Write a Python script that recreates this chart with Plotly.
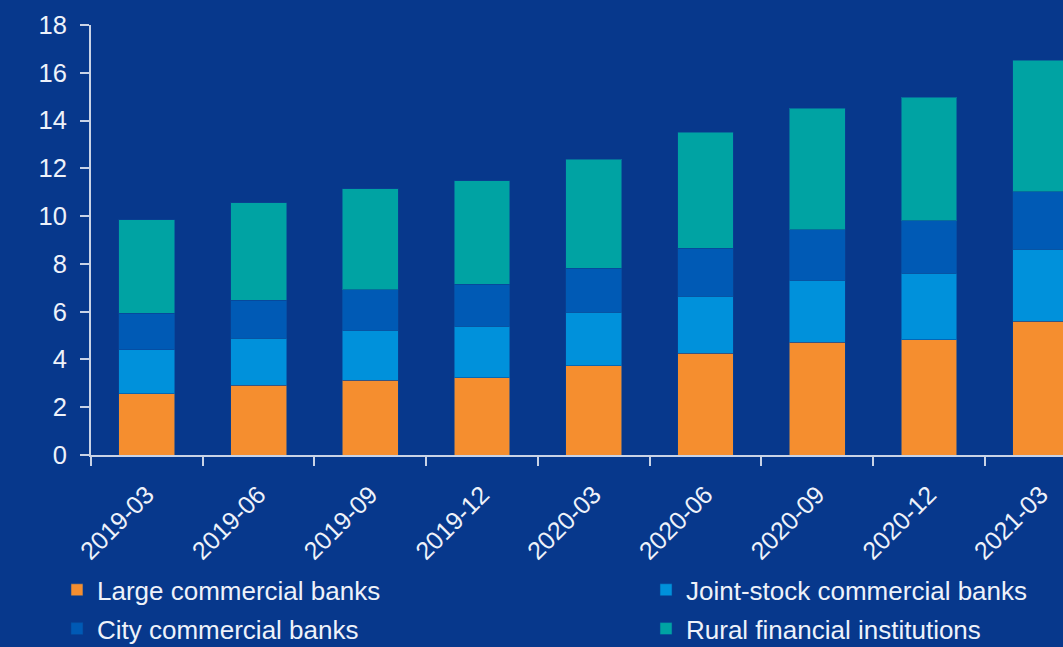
import plotly.graph_objects as go

# Quarter-end periods
periods = ["2019-03", "2019-06", "2019-09", "2019-12", "2020-03",
           "2020-06", "2020-09", "2020-12", "2021-03"]

# Stacked values by institution type
large_commercial = [2.57, 2.91, 3.13, 3.24, 3.73, 4.25, 4.71, 4.83, 5.60]
joint_stock = [1.84, 1.97, 2.09, 2.14, 2.25, 2.39, 2.60, 2.77, 3.01]
city_commercial = [1.52, 1.60, 1.70, 1.77, 1.84, 2.01, 2.12, 2.21, 2.40]
rural_financial = [3.92, 4.08, 4.23, 4.32, 4.56, 4.86, 5.08, 5.17, 5.51]

y_ticks = [0, 2, 4, 6, 8, 10, 12, 14, 16, 18]

# name, values, colour, legend column
series = [
    ("Large commercial banks", large_commercial, "#F58E2F", "legend"),
    ("Joint-stock commercial banks", joint_stock, "#0091DB", "legend2"),
    ("City commercial banks", city_commercial, "#005AB5", "legend"),
    ("Rural financial institutions", rural_financial, "#00A3A3", "legend2"),
]

BG = "#07388C"
TEXT = "#EEF2FA"
AXIS = "#C9D3E6"
FONT = "Liberation Sans, Arial, sans-serif"

fig = go.Figure()
for i, (name, vals, color, leg) in enumerate(series):
    fig.add_trace(go.Bar(
        x=periods, y=vals, name=name, legend=leg, legendgroup=f"g{i}",
        marker=dict(color=color, line=dict(color="rgba(10,70,150,0.55)", width=1)),
        width=0.5,
    ))

legend_common = dict(
    orientation="v", yanchor="top", y=-0.259,
    font=dict(size=26, color=TEXT, family=FONT),
    bgcolor="rgba(0,0,0,0)", traceorder="grouped", tracegroupgap=2,
    itemclick=False, borderwidth=0,
)

fig.update_layout(
    barmode="stack",
    width=1063, height=647,
    paper_bgcolor=BG, plot_bgcolor=BG,
    margin=dict(l=91, r=0, t=25, b=192, autoexpand=False),
    font=dict(family=FONT, color=TEXT, size=25),
    showlegend=True,
    legend=dict(x=-0.035, xanchor="left", **legend_common),
    legend2=dict(x=0.571, xanchor="left", **legend_common),
    bargap=0.5,
)

fig.update_xaxes(
    type="category", range=[-0.5, 8.2], automargin=False,
    showline=True, linecolor=AXIS, linewidth=2,
    ticks="outside", tickson="boundaries", ticklen=9, tickwidth=2, tickcolor=AXIS,
    tickangle=-45, tickfont=dict(size=25, color=TEXT, family=FONT),
    ticklabelstandoff=13,
    showgrid=False, zeroline=False,
)
fig.update_yaxes(
    range=[0, 18], tickvals=y_ticks, automargin=False,
    showline=True, linecolor=AXIS, linewidth=2,
    ticks="outside", ticklen=9, tickwidth=2, tickcolor=AXIS,
    tickfont=dict(size=25.5, color=TEXT, family=FONT),
    ticklabelstandoff=8,
    showgrid=False, zeroline=False,
)

fig.write_html("out.html")
